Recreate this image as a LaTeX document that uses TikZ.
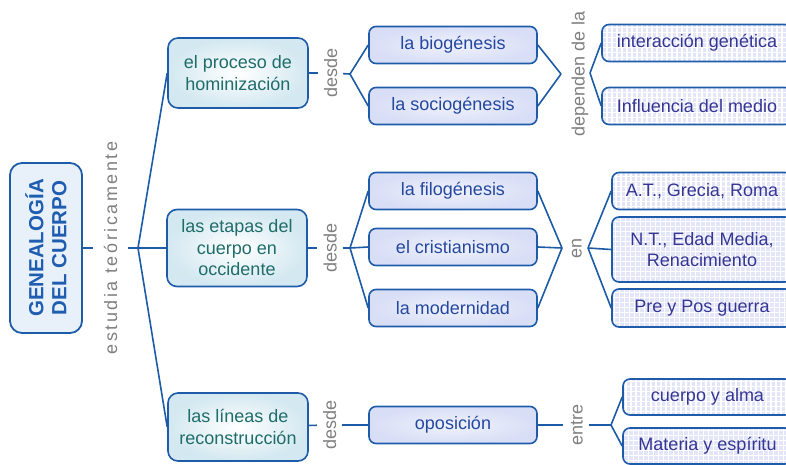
\documentclass[tikz,border=0pt]{standalone}
\usepackage{fontspec}
\setmainfont{Liberation Sans}
\definecolor{lineblue}{HTML}{1D5BA6}
\definecolor{boxblue}{HTML}{1E5CAA}
\definecolor{mainfill}{HTML}{E8F1FA}
\definecolor{maintext}{HTML}{1E5DB0}
\definecolor{lonefill}{HTML}{D3E8F0}
\definecolor{lonetext}{HTML}{1F6D6A}
\definecolor{ltwofill}{HTML}{D8DEF6}
\definecolor{ltwotext}{HTML}{2448A0}
\definecolor{lthreefill}{HTML}{E2E6F8}
\definecolor{lthreetext}{HTML}{353594}
\definecolor{labgray}{HTML}{808080}
\newcommand\myfs{\fontsize{18}{21.5}\selectfont}
\tikzset{
  conn/.style={draw=lineblue, line width=1.6pt},
  mainbox/.style={draw=boxblue, line width=1.8pt, rounded corners=12pt, fill=mainfill,
    text=maintext, align=center, inner sep=0pt,
    font=\fontsize{20.5}{23}\selectfont\bfseries},
  lone/.style={draw=boxblue, line width=1.6pt, rounded corners=10pt, inner color=white,
    outer color=lonefill, text=lonetext, align=center, font=\myfs, inner sep=0pt,
    minimum width=140pt},
  ltwo/.style={draw=boxblue, line width=1.6pt, rounded corners=7pt, inner color=white!60!ltwofill,
    outer color=ltwofill, text=ltwotext, align=center, font=\myfs, inner sep=0pt,
    minimum width=168pt, minimum height=37pt},
  lthree/.style={draw=boxblue, line width=1.6pt, rounded corners=7pt, fill=lthreefill,
    text=lthreetext, align=center, font=\myfs, inner sep=0pt, minimum height=37pt,
    path picture={\draw[white, line width=1.1pt, step=5pt]
      (path picture bounding box.south west) grid (path picture bounding box.north east);}},
  lab/.style={text=labgray, font=\myfs, rotate=90, text height=13pt, text depth=0pt,
    inner xsep=0pt, inner ysep=6pt},
}
\begin{document}
\begin{tikzpicture}[x=1pt, y=-1pt]
\useasboundingbox (0,0) rectangle (786,464);
\clip (0,0) rectangle (786,464);
\fill[white] (0,0) rectangle (786,464);

% main concept
\node[mainbox, rotate=90, minimum width=170pt, minimum height=72pt] (main) at (46,248)
  {GENEALOGÍA\\DEL CUERPO};
\node[lab, inner ysep=11pt, font=\myfs\addfontfeatures{LetterSpace=14}] (lab0) at (110.5,248) {estudia teóricamente};
\coordinate (j0) at (138,248);

% level 1
\node[lone, minimum height=70pt] (t1) at (238,73) {el proceso de\\hominización};
\node[lone, minimum height=77pt] (t2) at (237,248) {las etapas del\\cuerpo en\\occidente};
\node[lone, minimum height=68pt] (t3) at (238,427) {las líneas de\\reconstrucción};

% linking phrases
\node[lab] (d1) at (330.5,73) {desde};
\node[lab] (d2) at (330,248) {desde};
\node[lab] (d3) at (329.5,425) {desde};
\coordinate (j1) at (350,74);
\coordinate (j2) at (350,248);

% level 2
\node[ltwo] (b1) at (453,45) {la biogénesis};
\node[ltwo] (b2) at (453,106) {la sociogénesis};
\node[ltwo] (b3) at (453,191) {la filogénesis};
\node[ltwo] (b4) at (453,247) {el cristianismo};
\node[ltwo] (b5) at (453,308) {la modernidad};
\node[ltwo] (b6) at (453,425) {oposición};

% linking phrases right
\node[lab] (p1) at (578,74) {dependen de la};
\node[lab] (p2) at (575,248) {en};
\node[lab] (p3) at (576,425) {entre};
\coordinate (k1) at (561,74);
\coordinate (m1) at (590,73);
\coordinate (k2) at (562,248);
\coordinate (m2) at (588,248);
\coordinate (m3) at (611,425);

% level 3
\node[lthree, minimum width=190pt] (c1) at (697,43) {interacción genética};
\node[lthree, minimum width=190pt] (c2) at (697,106) {Influencia del medio};
\node[lthree, minimum width=180pt] (c3) at (702,191) {A.T., Grecia, Roma};
\node[lthree, minimum width=180pt, minimum height=65pt] (c4) at (702,249.5) {N.T., Edad Media,\\Renacimiento};
\node[lthree, minimum width=180pt, minimum height=38pt] (c5) at (702,308) {Pre y Pos guerra};
\node[lthree, minimum width=169pt, minimum height=36pt] (c6) at (707.5,397) {cuerpo y alma};
\node[lthree, minimum width=169pt, minimum height=36pt] (c7) at (707.5,446) {Materia y  espíritu};

% connectors
\draw[conn] (main) -- (lab0);
\draw[conn] (lab0) -- (j0);
\draw[conn] (j0) -- (t1.west);
\draw[conn] (j0) -- (t2.west);
\draw[conn] (j0) -- (t3.west);

\draw[conn] (t1) -- (d1);
\draw[conn] (d1) -- (j1);
\draw[conn] (j1) -- (b1.west);
\draw[conn] (j1) -- (b2.west);
\draw[conn] (t2) -- (d2);
\draw[conn] (d2) -- (j2);
\draw[conn] (j2) -- (b3.west);
\draw[conn] (j2) -- (b4.west);
\draw[conn] (j2) -- (b5.west);
\draw[conn] (t3) -- (d3);
\draw[conn] (d3) -- (b6);

\draw[conn] (b1.east) -- (k1);
\draw[conn] (b2.east) -- (k1);
\draw[conn] (m1) -- (c1.west);
\draw[conn] (m1) -- (c2.west);
\draw[conn] (b3.east) -- (k2);
\draw[conn] (b4.east) -- (k2);
\draw[conn] (b5.east) -- (k2);
\draw[conn] (m2) -- (c3.west);
\draw[conn] (m2) -- (c4.west);
\draw[conn] (m2) -- (c5.west);
\draw[conn] (b6) -- (p3);
\draw[conn] (p3) -- (m3);
\draw[conn] (m3) -- (c6.west);
\draw[conn] (m3) -- (c7.west);
\end{tikzpicture}
\end{document}
